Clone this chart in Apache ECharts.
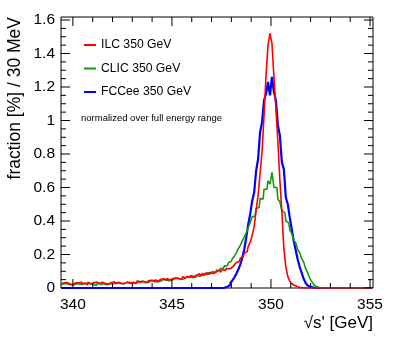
<!DOCTYPE html>
<html>
<head>
<meta charset="utf-8">
<script src="https://cdn.jsdelivr.net/npm/echarts@6/dist/echarts.min.js"></script>
<style>
  html, body { margin: 0; padding: 0; background: #fff; }
  #main { width: 407px; height: 344px; }
</style>
</head>
<body>
<div id="main"></div>
<script>
// histogram bins: centres 339.4, 339.5, ... 355.1 (0.1 GeV wide)
const binStart = 339.4
const binWidth = 0.1

const ilc = [
  0.022, 0.031, 0.020, 0.033, 0.024, 0.029,
  0.021, 0.032, 0.024, 0.030, 0.035, 0.022, 0.030, 0.019, 0.034, 0.026,
  0.031, 0.022, 0.035, 0.027, 0.024, 0.034, 0.026, 0.036, 0.023, 0.033,
  0.027, 0.037, 0.025, 0.034, 0.028, 0.039, 0.026, 0.035, 0.040, 0.029,
  0.034, 0.041, 0.030, 0.043, 0.033, 0.040, 0.046, 0.034, 0.045, 0.037,
  0.046, 0.036, 0.050, 0.041, 0.052, 0.042, 0.055, 0.044, 0.057, 0.047,
  0.056, 0.052, 0.060, 0.055, 0.066, 0.054, 0.068, 0.058, 0.071, 0.062,
  0.074, 0.067, 0.076, 0.071, 0.085, 0.070, 0.088, 0.076, 0.092, 0.081,
  0.094, 0.087, 0.097, 0.091, 0.107, 0.094, 0.111, 0.104, 0.118, 0.113,
  0.124, 0.132, 0.138, 0.152, 0.158, 0.178, 0.188, 0.208, 0.218, 0.248,
  0.272, 0.315, 0.365, 0.465, 0.555, 0.685, 0.815, 1.030, 1.270, 1.450,
  1.520, 1.460, 1.260, 1.070, 0.870, 0.640, 0.455, 0.235, 0.125, 0.068,
  0.040, 0.025, 0.015, 0.008, 0.004, 0.002, 0.001, 0, 0, 0,
  0, 0, 0, 0, 0, 0, 0, 0, 0, 0,
  0, 0, 0, 0, 0, 0, 0, 0, 0, 0,
  0, 0, 0, 0, 0, 0, 0, 0, 0, 0,
  0, 0
]

const clic = [
  0.018, 0.026, 0.017, 0.025, 0.020, 0.027,
  0.017, 0.024, 0.019, 0.026, 0.021, 0.016, 0.025, 0.028, 0.018, 0.026,
  0.020, 0.027, 0.017, 0.029, 0.021, 0.025, 0.030, 0.020, 0.027, 0.031,
  0.022, 0.031, 0.021, 0.030, 0.025, 0.032, 0.026, 0.034, 0.027, 0.033,
  0.027, 0.037, 0.028, 0.038, 0.029, 0.040, 0.031, 0.041, 0.032, 0.043,
  0.035, 0.045, 0.036, 0.047, 0.039, 0.049, 0.041, 0.051, 0.043, 0.054,
  0.046, 0.056, 0.048, 0.059, 0.051, 0.062, 0.054, 0.065, 0.057, 0.068,
  0.061, 0.072, 0.064, 0.076, 0.068, 0.080, 0.073, 0.086, 0.079, 0.092,
  0.086, 0.099, 0.093, 0.107, 0.104, 0.117, 0.116, 0.132, 0.133, 0.152,
  0.160, 0.175, 0.190, 0.210, 0.235, 0.255, 0.280, 0.305, 0.330, 0.360,
  0.390, 0.425, 0.430, 0.475, 0.480, 0.535, 0.530, 0.590, 0.590, 0.640,
  0.620, 0.690, 0.600, 0.600, 0.530, 0.515, 0.460, 0.450, 0.400, 0.390,
  0.345, 0.325, 0.285, 0.270, 0.230, 0.210, 0.175, 0.155, 0.115, 0.092,
  0.060, 0.040, 0.022, 0.010, 0.004, 0.001, 0, 0, 0, 0,
  0, 0, 0, 0, 0, 0, 0, 0, 0, 0,
  0, 0, 0, 0, 0, 0, 0, 0, 0, 0,
  0, 0
]

const fccee = [
  0, 0, 0, 0, 0, 0,
  0, 0, 0, 0, 0, 0, 0, 0, 0, 0,
  0, 0, 0, 0, 0, 0, 0, 0, 0, 0,
  0, 0, 0, 0, 0, 0, 0, 0, 0, 0,
  0, 0, 0, 0, 0, 0, 0, 0, 0, 0,
  0, 0, 0, 0, 0, 0, 0, 0, 0, 0,
  0, 0, 0, 0, 0, 0, 0, 0, 0, 0,
  0, 0, 0, 0, 0, 0, 0, 0, 0, 0,
  0, 0, 0, 0, 0, 0, 0.001, 0.003, 0.008, 0.018,
  0.030, 0.045, 0.062, 0.085, 0.110, 0.140, 0.180, 0.230, 0.300, 0.380,
  0.440, 0.520, 0.570, 0.700, 0.770, 0.930, 0.990, 1.120, 1.160, 1.230,
  1.150, 1.260, 1.170, 1.120, 0.970, 0.910, 0.750, 0.710, 0.540, 0.500,
  0.420, 0.350, 0.280, 0.225, 0.170, 0.125, 0.090, 0.055, 0.030, 0.015,
  0.007, 0.003, 0.001, 0, 0, 0, 0, 0, 0, 0,
  0, 0, 0, 0, 0, 0, 0, 0, 0, 0,
  0, 0, 0, 0, 0, 0, 0, 0, 0, 0,
  0, 0
]

const seriesNames = ['ILC 350 GeV', 'CLIC 350 GeV', 'FCCee 350 GeV']
const seriesColors = ['#ff0000', '#129a12', '#0000ff']
const xMajor = [340, 345, 350, 355]
const xMinor = [340, 341, 342, 343, 344, 345, 346, 347, 348, 349, 350, 351, 352, 353, 354, 355]
const yMajor = [0, 0.2, 0.4, 0.6, 0.8, 1, 1.2, 1.4, 1.6]
const yMinor = []
for (let k = 0; k <= 32; k++) yMinor.push(+(k * 0.05).toFixed(2))

const font = '"Liberation Sans", Arial, sans-serif'
const xMin = 339.4, xMax = 355.15, yMin = 0, yMax = 1.618
const gridBox = { left: 61, right: 34, top: 17, bottom: 56 }

function toPairs(arr) {
  return arr.map((v, i) => [+(binStart + i * binWidth).toFixed(2), v])
}

// inward ticks (ROOT style) as short segments in data units, broken by '-' points
const plotW = 407 - gridBox.left - gridBox.right
const plotH = 344 - gridBox.top - gridBox.bottom
const pxX = (xMax - xMin) / plotW   // GeV per pixel
const pxY = (yMax - yMin) / plotH   // fraction per pixel

const xTickData = []
xMinor.forEach(v => {
  const len = (xMajor.includes(v) ? 9 : 5) * pxY
  xTickData.push([v, yMin], [v, yMin + len], [v, '-'])
  xTickData.push([v, yMax], [v, yMax - len], [v, '-'])
})
const yTickData = []
yMinor.forEach(v => {
  const len = (yMajor.includes(v) ? 9 : 5) * pxX
  yTickData.push([xMin, v], [xMin + len, v], ['-', v])
  yTickData.push([xMax, v], [xMax - len, v], ['-', v])
})

const myChart = echarts.init(document.getElementById('main'))

var option = {
  animation: false,
  backgroundColor: '#fff',
  grid: Object.assign({ show: true, borderColor: '#000', borderWidth: 1 }, gridBox),
  xAxis: {
    type: 'value', min: xMin, max: xMax,
    axisLine: { show: false },
    axisTick: { show: false },
    axisLabel: { customValues: xMajor, fontSize: 15.5, color: '#000', margin: 9, fontFamily: font },
    splitLine: { show: false }
  },
  yAxis: {
    type: 'value', min: yMin, max: yMax,
    axisLine: { show: false },
    axisTick: { show: false },
    axisLabel: { customValues: yMajor, fontSize: 15.5, color: '#000', margin: 6, fontFamily: font },
    splitLine: { show: false }
  },
  legend: {
    orient: 'vertical', left: 84, top: 38, itemGap: 9.5, padding: 0,
    icon: 'rect', itemWidth: 12, itemHeight: 2,
    data: seriesNames,
    textStyle: { fontSize: 12.2, color: '#000', fontFamily: font, lineHeight: 14 }
  },
  graphic: [
    { type: 'text', left: 81, top: 113, style: { text: 'normalized over full energy range', fontSize: 9.5, fill: '#000', fontFamily: font } },
    { type: 'text', x: 15, y: 17, rotation: Math.PI / 2,
      style: { text: 'fraction [%] / 30 MeV', fontSize: 17.5, fill: '#000', fontFamily: font, align: 'right', verticalAlign: 'middle' } },
    { type: 'text', x: 373, y: 323,
      style: { text: "\u221As' [GeV]", fontSize: 17, fill: '#000', fontFamily: font, align: 'right', verticalAlign: 'middle' } }
  ],
  series: [
    { name: seriesNames[2], type: 'line', step: 'middle', symbol: 'none', z: 2,
      color: seriesColors[2], lineStyle: { width: 2.2, color: seriesColors[2] }, data: toPairs(fccee) },
    { name: seriesNames[1], type: 'line', step: 'middle', symbol: 'none', z: 3,
      color: seriesColors[1], lineStyle: { width: 1.6, color: seriesColors[1] }, data: toPairs(clic) },
    { name: seriesNames[0], type: 'line', step: 'middle', symbol: 'none', z: 4,
      color: seriesColors[0], lineStyle: { width: 1.6, color: seriesColors[0] }, data: toPairs(ilc) },
    { name: 'xticks', type: 'line', symbol: 'none', silent: true, z: 5, connectNulls: false,
      lineStyle: { width: 1, color: '#000' }, data: xTickData },
    { name: 'yticks', type: 'line', symbol: 'none', silent: true, z: 5, connectNulls: false,
      lineStyle: { width: 1, color: '#000' }, data: yTickData }
  ]
}

myChart.setOption(option)
</script>
</body>
</html>
